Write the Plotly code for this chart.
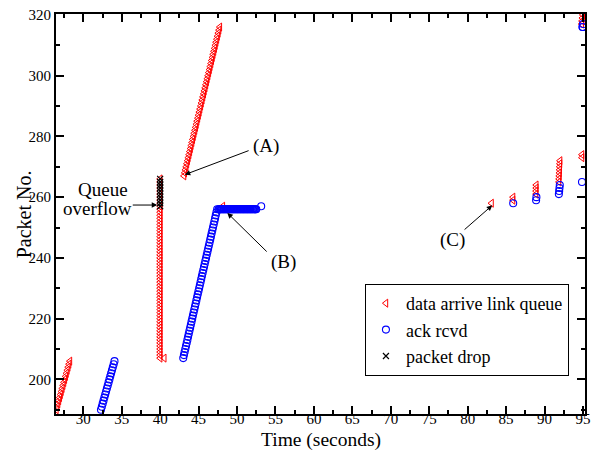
import plotly.graph_objects as go

# ---- data: "data arrive link queue" (time s, packet no.) ----
red_t = [
    # first burst
    26.50, 26.61, 26.72, 26.83, 26.94, 27.05, 27.16, 27.27, 27.38, 27.49,
    27.60, 27.71, 27.82, 27.93, 28.04, 28.15, 28.26,
    # burst at t=40 (queue overflow)
    40.00, 40.00, 40.00, 40.00, 40.00, 40.00, 40.00, 40.00, 40.00, 40.00,
    40.00, 40.00, 40.00, 40.00, 40.00, 40.00, 40.00, 40.00, 40.00, 40.00,
    40.00, 40.00, 40.00, 40.00, 40.00, 40.00, 40.00, 40.00, 40.00, 40.00,
    40.00, 40.00, 40.00, 40.00, 40.00, 40.00, 40.00, 40.00, 40.00, 40.00,
    40.00, 40.00, 40.00, 40.00, 40.00, 40.00, 40.00, 40.00, 40.00, 40.00,
    40.00, 40.00, 40.00, 40.00, 40.00, 40.00, 40.00, 40.00, 40.00, 40.00,
    40.53,
    # (A)
    43.10, 43.20, 43.29, 43.39, 43.48, 43.58, 43.67, 43.77, 43.86, 43.96,
    44.05, 44.15, 44.24, 44.34, 44.43, 44.53, 44.62, 44.72, 44.81, 44.91,
    45.00, 45.10, 45.19, 45.29, 45.38, 45.48, 45.57, 45.67, 45.76, 45.86,
    45.95, 46.05, 46.14, 46.24, 46.33, 46.43, 46.52, 46.62, 46.71, 46.81,
    46.90, 47.00, 47.09, 47.19, 47.28, 47.38, 47.47, 47.57, 47.66, 47.76,
    # (B)
    48.15,
    # (C) and later
    83.10, 85.90, 85.90, 88.90, 88.90, 88.92, 88.92,
    91.88, 91.90, 91.92, 91.94, 91.96, 91.98, 92.00, 92.02,
    94.87, 94.87,
    94.83, 94.88, 94.93, 94.98, 95.03, 95.08,
]
red_pkt = [
    190, 191, 192, 193, 194, 195, 196, 197, 198, 199,
    200, 201, 202, 203, 204, 205, 206,
    207, 208, 209, 210, 211, 212, 213, 214, 215, 216,
    217, 218, 219, 220, 221, 222, 223, 224, 225, 226,
    227, 228, 229, 230, 231, 232, 233, 234, 235, 236,
    237, 238, 239, 240, 241, 242, 243, 244, 245, 246,
    247, 248, 249, 250, 251, 252, 253, 254, 255, 256,
    257, 258, 259, 260, 261, 262, 263, 264, 265, 266,
    207,
    267, 268, 269, 270, 271, 272, 273, 274, 275, 276,
    277, 278, 279, 280, 281, 282, 283, 284, 285, 286,
    287, 288, 289, 290, 291, 292, 293, 294, 295, 296,
    297, 298, 299, 300, 301, 302, 303, 304, 305, 306,
    307, 308, 309, 310, 311, 312, 313, 314, 315, 316,
    257,
    258, 259, 260, 261, 262, 263, 264,
    265, 266, 267, 268, 269, 270, 271, 272,
    273, 274,
    317, 318, 319, 320, 321, 322,
]

# ---- data: "ack rcvd" ----
blue_t = [
    32.30, 32.41, 32.52, 32.63, 32.74, 32.85, 32.96, 33.07, 33.18, 33.29,
    33.40, 33.51, 33.62, 33.73, 33.84, 33.95, 34.06,
    43.00, 43.09, 43.18, 43.27, 43.36, 43.45, 43.54, 43.63, 43.72, 43.81,
    43.90, 43.99, 44.08, 44.17, 44.26, 44.35, 44.44, 44.53, 44.62, 44.71,
    44.80, 44.89, 44.98, 45.07, 45.16, 45.25, 45.34, 45.43, 45.52, 45.61,
    45.70, 45.79, 45.88, 45.97, 46.06, 46.15, 46.24, 46.33, 46.42, 46.51,
    46.60, 46.69, 46.78, 46.87, 46.96, 47.05, 47.14, 47.23, 47.32, 47.41,
    # duplicate acks
    47.60, 47.70, 47.80, 47.90, 48.00, 48.10, 48.20, 48.30, 48.40, 48.50,
    48.60, 48.70, 48.80, 48.90, 49.00, 49.10, 49.20, 49.30, 49.40, 49.50,
    49.60, 49.70, 49.80, 49.90, 50.00, 50.10, 50.20, 50.30, 50.40, 50.50,
    50.60, 50.70, 50.80, 50.90, 51.00, 51.10, 51.20, 51.30, 51.40, 51.50,
    51.60, 51.70, 51.80, 51.90, 52.00, 52.10, 52.20, 52.30, 52.40, 52.50,
    53.14,
    85.92, 88.90, 88.94, 91.86, 91.90, 91.94, 91.98, 94.87,
    94.92, 94.97, 95.00,
]
blue_pkt = [
    190, 191, 192, 193, 194, 195, 196, 197, 198, 199,
    200, 201, 202, 203, 204, 205, 206,
    207, 208, 209, 210, 211, 212, 213, 214, 215, 216,
    217, 218, 219, 220, 221, 222, 223, 224, 225, 226,
    227, 228, 229, 230, 231, 232, 233, 234, 235, 236,
    237, 238, 239, 240, 241, 242, 243, 244, 245, 246,
    247, 248, 249, 250, 251, 252, 253, 254, 255, 256,
    256, 256, 256, 256, 256, 256, 256, 256, 256, 256,
    256, 256, 256, 256, 256, 256, 256, 256, 256, 256,
    256, 256, 256, 256, 256, 256, 256, 256, 256, 256,
    256, 256, 256, 256, 256, 256, 256, 256, 256, 256,
    256, 256, 256, 256, 256, 256, 256, 256, 256, 256,
    257,
    258, 259, 260, 261, 262, 263, 264, 265,
    316, 316, 317,
]

# ---- data: "packet drop" ----
drop_t = [40.00, 40.00, 40.00, 40.00, 40.00, 40.00, 40.00, 40.00, 40.00, 40.00]
drop_pkt = [257, 258, 259, 260, 261, 262, 263, 264, 265, 266]

FONT = "Liberation Serif"

fig = go.Figure()
fig.add_trace(go.Scatter(
    x=red_t, y=red_pkt, mode="markers", name="data arrive link queue",
    marker=dict(symbol="triangle-left-open", size=7, color="#ff0000",
                line=dict(width=1, color="#ff0000")),
))
fig.add_trace(go.Scatter(
    x=blue_t, y=blue_pkt, mode="markers", name="ack rcvd",
    marker=dict(symbol="circle-open", size=7, color="#0000ff",
                line=dict(width=1.1, color="#0000ff")),
))
fig.add_trace(go.Scatter(
    x=drop_t, y=drop_pkt, mode="markers", name="packet drop",
    marker=dict(symbol="x-thin-open", size=6, color="#000000",
                line=dict(width=1.2, color="#000000")),
))

def arrow(x_tail, y_tail, x_tip, y_tip):
    fig.add_annotation(
        x=x_tip, y=y_tip, ax=x_tail, ay=y_tail, axref="x", ayref="y",
        xref="x", yref="y", text="", showarrow=True,
        arrowhead=2, arrowsize=1.1, arrowwidth=1, arrowcolor="black",
    )

def label(x, y, text):
    fig.add_annotation(
        x=x, y=y, xref="x", yref="y", text=text, showarrow=False,
        font=dict(family=FONT, size=19, color="black"),
        xanchor="center", yanchor="middle",
    )

arrow(36.24, 257.4, 39.62, 257.4)
label(32.6, 262.6, "Queue")
label(31.8, 256.2, "overflow")
arrow(51.7, 275.5, 43.2, 267.4)
label(53.8, 276.8, "(A)")
arrow(54.05, 241.6, 48.74, 254.8)
label(56.0, 238.6, "(B)")
arrow(79.4, 248.9, 83.2, 257.3)
label(78.0, 245.9, "(C)")

# axis titles
fig.add_annotation(
    x=0.5, y=-0.066, xref="paper", yref="paper", text="Time (seconds)",
    showarrow=False, font=dict(family=FONT, size=19.5, color="black"),
    xanchor="center", yanchor="middle",
)
fig.add_annotation(
    x=-0.06, y=0.5, xref="paper", yref="paper", text="Packet No.",
    showarrow=False, textangle=-90, font=dict(family=FONT, size=20, color="black"),
    xanchor="center", yanchor="middle",
)

axis_common = dict(
    showgrid=False, zeroline=False, showline=True, linewidth=2,
    linecolor="black", mirror="allticks", ticks="inside", ticklen=8,
    tickwidth=1.5, tickcolor="black",
    tickfont=dict(family=FONT, size=15, color="black"),
)

fig.update_xaxes(
    range=[26.45, 95.26], tick0=30, dtick=5, ticklabelstandoff=-10,
    minor=dict(dtick=2.5, ticklen=4, ticks="inside", tickwidth=1.5, tickcolor="black"),
    automargin=False, **axis_common,
)
fig.update_yaxes(
    range=[188.6, 320.3], tick0=200, dtick=20,
    minor=dict(dtick=10, ticklen=4, ticks="inside", tickwidth=1.5, tickcolor="black"),
    automargin=False, **axis_common,
)

fig.update_layout(
    width=595, height=450,
    margin=dict(l=56, r=10, t=14, b=36),
    paper_bgcolor="white", plot_bgcolor="white",
    showlegend=True,
    legend=dict(
        x=0.584, y=0.325, xanchor="left", yanchor="top",
        bordercolor="black", borderwidth=1, bgcolor="white",
        font=dict(family=FONT, size=18, color="black"),
        itemwidth=30, tracegroupgap=0,
    ),
)

fig.write_html(
    "out.html",
    config={"displayModeBar": False},
    post_script="document.body.style.margin='0';document.body.style.padding='0';",
)
